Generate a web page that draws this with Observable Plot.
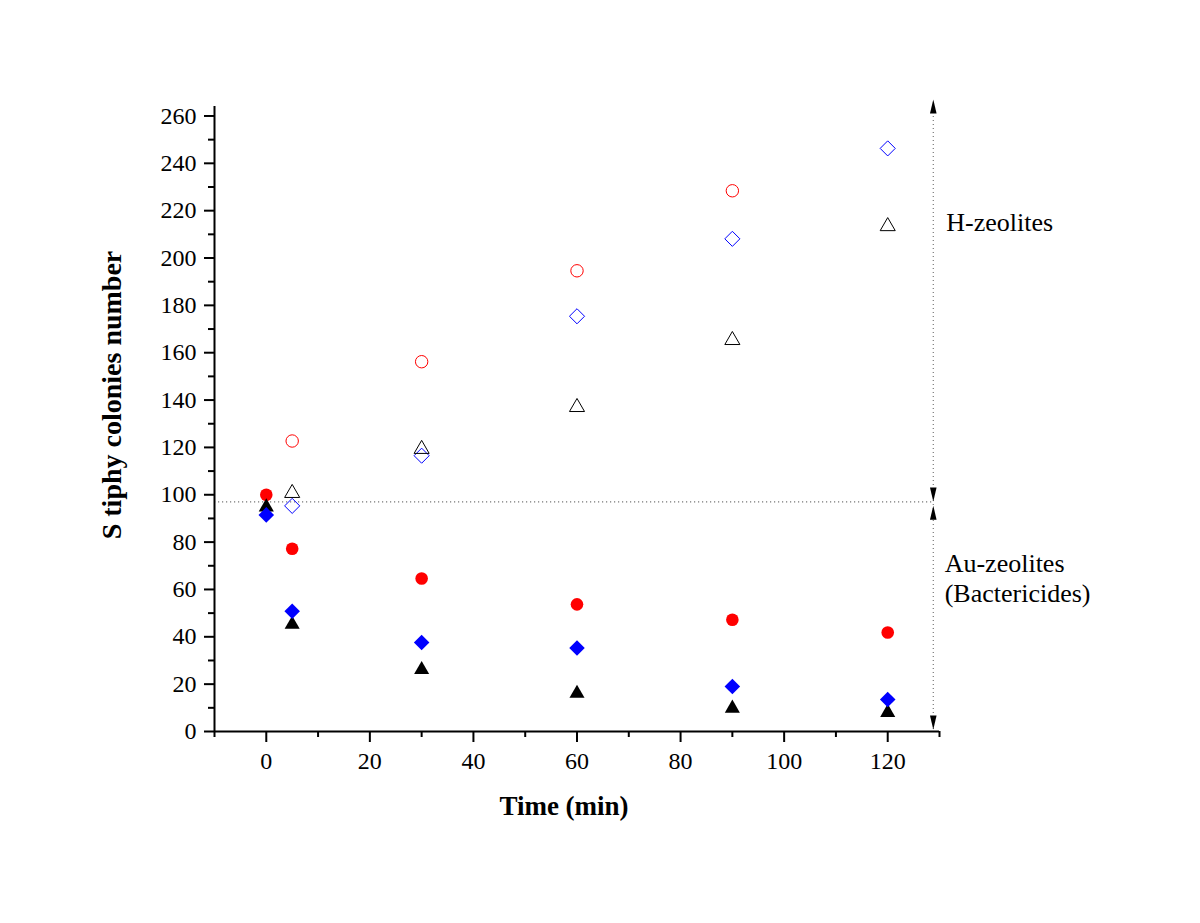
<!DOCTYPE html>
<html><head><meta charset="utf-8">
<script src="https://cdn.jsdelivr.net/npm/d3@7"></script>
<script src="https://cdn.jsdelivr.net/npm/@observablehq/plot@0.6"></script>
<style>body{margin:0;background:#fff;} svg{display:block;}</style>
</head><body><div id="chart"></div>
<script>
// Data
const hCircleTime = [5, 30, 60, 90];
const hCircle = [122.7, 156.2, 194.6, 228.4];          // H-zeolite, red open circles
const hTime = [5, 30, 60, 90, 120];
const hDiamond = [95.3, 116.5, 175.4, 208.1, 246.3];    // H-zeolite, blue open diamonds
const hTriangle = [100.7, 119.3, 137.0, 165.3, 213.4];  // H-zeolite, black open triangles
const auTime = [0, 5, 30, 60, 90, 120];
const auCircle = [100.0, 77.2, 64.6, 53.7, 47.2, 41.8]; // Au-zeolite, red filled circles
const auDiamond = [91.5, 50.8, 37.6, 35.3, 19.0, 13.5]; // Au-zeolite, blue filled diamonds
const auTriangle = [94.8, 45.2, 26.1, 16.1, 9.8, 8.0];  // Au-zeolite, black filled triangles

const xMajor = [0, 20, 40, 60, 80, 100, 120];
const xMinor = [-10, 10, 30, 50, 70, 90, 110, 130];
const yMajor = [0, 20, 40, 60, 80, 100, 120, 140, 160, 180, 200, 220, 240, 260];
const yMinor = [10, 30, 50, 70, 90, 110, 130, 150, 170, 190, 210, 230, 250];

const xLabel = "Time (min)";
const yLabel = "S tiphy colonies number";
const dividerY = 97;        // horizontal dotted separator
const bracketX = 128.8;     // vertical dotted bracket
const arrowTips = [{y: 267, dir: "up"}, {y: 97.1, dir: "down"}, {y: 95.4, dir: "up"}, {y: 0.8, dir: "down"}];
const annotations = [
  {text: "H-zeolites", x: 131.3, y: 215.0},
  {text: "Au-zeolites", x: 131.0, y: 71.1},
  {text: "(Bactericides)", x: 131.0, y: 58.1}
];

const rows = (xs, ys) => xs.map((x, i) => ({x, y: ys[i]}));

const arrowHead = {
  draw(ctx) { ctx.moveTo(0, 0); ctx.lineTo(-3.3, 14); ctx.lineTo(3.3, 14); ctx.closePath(); }
};

const serif = "'Liberation Serif', 'Times New Roman', serif";

const chart = Plot.plot({
  width: 1200,
  height: 923,
  marginLeft: 214,
  marginRight: 261,
  marginTop: 106,
  marginBottom: 192,
  x: {domain: [-10, 130]},
  y: {domain: [0, 264]},
  style: {fontFamily: serif, fontSize: "24px", color: "black", background: "white"},
  marks: [
    // dotted annotation lines
    Plot.ruleY([dividerY], {x1: -10, x2: bracketX, stroke: "#777", strokeWidth: 1.2, strokeDasharray: "1.2,2.8"}),
    Plot.ruleX([bracketX], {y1: 0.8, y2: 266, stroke: "#777", strokeWidth: 1.2, strokeDasharray: "1.2,2.8"}),
    Plot.dot(arrowTips, {x: () => bracketX, y: "y", symbol: arrowHead, fill: "black", stroke: "none",
      rotate: d => d.dir === "up" ? 0 : 180}),
    // axes
    Plot.axisX({ticks: xMajor, tickSize: 11, tickPadding: 9, strokeWidth: 2, label: null, fontSize: 24}),
    Plot.axisX({ticks: xMinor, tickSize: 6, tickFormat: () => "", strokeWidth: 2, label: null}),
    Plot.axisY({ticks: yMajor, tickSize: 10, tickPadding: 8, strokeWidth: 2, label: null, fontSize: 24}),
    Plot.axisY({ticks: yMinor, tickSize: 6, tickFormat: () => "", strokeWidth: 2, label: null}),
    Plot.ruleY([0], {stroke: "black", strokeWidth: 2}),
    Plot.ruleX([-10], {stroke: "black", strokeWidth: 2}),
    // H-zeolites (open)
    Plot.dot(rows(hCircleTime, hCircle), {x: "x", y: "y", symbol: "circle", r: 6.2, stroke: "#ff0000", strokeWidth: 1, fill: "none"}),
    Plot.dot(rows(hTime, hDiamond), {x: "x", y: "y", symbol: "diamond2", r: 6.8, stroke: "#0000ff", strokeWidth: 1, fill: "none"}),
    Plot.dot(rows(hTime, hTriangle), {x: "x", y: "y", symbol: "triangle", r: 5.6, stroke: "black", strokeWidth: 1, fill: "none"}),
    // Au-zeolites (filled)
    Plot.dot(rows(auTime, auCircle), {x: "x", y: "y", symbol: "circle", r: 6.3, fill: "#ff0000", stroke: "none"}),
    Plot.dot(rows(auTime, auTriangle), {x: "x", y: "y", symbol: "triangle", r: 5.6, fill: "black", stroke: "none"}),
    Plot.dot(rows(auTime, auDiamond), {x: "x", y: "y", symbol: "diamond2", r: 7.0, fill: "#0000ff", stroke: "none"}),
    // annotations
    Plot.text(annotations, {x: "x", y: "y", text: "text", textAnchor: "start", fontSize: 26, fill: "black"}),
    // axis titles
    Plot.text([xLabel], {frameAnchor: "bottom", dx: -13, dy: 75, textAnchor: "middle", lineAnchor: "middle", fontSize: 27, fontWeight: "bold", fill: "black"}),
    Plot.text([yLabel], {frameAnchor: "left", dx: -102, dy: -24, rotate: -90, textAnchor: "middle", lineAnchor: "middle", fontSize: 28, fontWeight: "bold", fill: "black"})
  ]
});
document.getElementById("chart").appendChild(chart);
</script>
</body></html>
